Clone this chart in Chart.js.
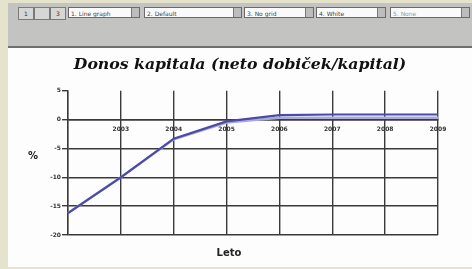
<!DOCTYPE html>
<html><head><meta charset="utf-8">
<script src="https://cdn.jsdelivr.net/npm/chart.js@4/dist/chart.umd.min.js"></script>
<style>
html,body{margin:0;padding:0;}
body{width:472px;height:269px;background:#e5e3cb;position:relative;overflow:hidden;font-family:"DejaVu Sans",sans-serif;}
#bar{position:absolute;left:8px;top:3px;width:464px;height:43px;background:#c3c3c1;border-bottom:2px solid #6e6e6e;}
.btn{position:absolute;top:4px;height:11px;background:#d6d6d4;border:1px solid #7a7a7a;font-size:6px;line-height:11px;text-align:center;color:#333;}
.dd{position:absolute;top:4px;height:11px;background:#fafafa;border:1px solid #6a6a6a;font-size:6px;line-height:11px;color:#444;padding-left:2px;box-sizing:border-box;}
.ar{position:absolute;right:0;top:0;width:7px;height:9px;background:#bdbdbd;border-left:1px solid #777;}
#panel{position:absolute;left:8px;top:48px;width:464px;height:219px;background:#fdfdfd;}
</style></head>
<body>
<div id="bar">
  <div class="btn" style="left:10px;width:14px">1</div>
  <div class="btn" style="left:26px;width:14px"></div>
  <div class="btn" style="left:42px;width:14px">3</div>
  <div class="dd" style="left:60px;width:72px">1. Line graph<div class="ar"></div></div>
  <div class="dd" style="left:136px;width:98px">2. Default<div class="ar"></div></div>
  <div class="dd" style="left:236px;width:70px">3. No grid<div class="ar"></div></div>
  <div class="dd" style="left:308px;width:70px">4. White<div class="ar"></div></div>
  <div class="dd" style="left:382px;width:80px;color:#999">5. None<div class="ar"></div></div>
</div>
<div id="panel"><canvas id="c" width="464" height="219"></canvas></div>
<script>
const categories = ['2002','2003','2004','2005','2006','2007','2008','2009'];
const seriesMain = [-16.2, -10.0, -3.3, -0.3, 0.8, 0.9, 0.9, 0.9];
const seriesLight = [-16.2, -10.0, -3.4, -0.5, 0.35, 0.35, 0.35, 0.35];
const yTicks = [5, 0, -5, -10, -15, -20];
const titleText = 'Donos kapitala (neto dobiček/kapital)';
const xTitle = 'Leto';
const yTitle = '%';

const gridDark = '#3a3a3a';
const axisTitlesPlugin = {
  id: 'axisTitles',
  afterDraw(chart) {
    const ctx = chart.ctx;
    ctx.save();
    ctx.fillStyle = '#222';
    ctx.textAlign = 'center';
    ctx.textBaseline = 'middle';
    ctx.font = 'bold 10px "DejaVu Sans", sans-serif';
    ctx.fillText(yTitle, 25, 108);
    ctx.fillText(xTitle, 221, 205);
    ctx.restore();
  }
};

new Chart(document.getElementById('c'), {
  type: 'line',
  data: {
    labels: categories,
    datasets: [
      { data: seriesLight, borderColor: '#a9a9dc', borderWidth: 2.5, pointRadius: 0, tension: 0, order: 2 },
      { data: seriesMain, borderColor: '#4b4ba6', borderWidth: 2.2, pointRadius: 0, tension: 0, order: 1 }
    ]
  },
  plugins: [axisTitlesPlugin],
  options: {
    responsive: false,
    animation: false,
    layout: { padding: { left: 0, right: 0, top: 0, bottom: 32 } },
    plugins: {
      legend: { display: false },
      tooltip: { enabled: false },
      title: {
        display: true, text: titleText, color: '#111',
        font: { family: '"DejaVu Serif", serif', size: 15.7, style: 'italic', weight: 'bold' },
        padding: { top: 8, bottom: 16 }
      }
    },
    scales: {
      x: {
        type: 'category',
        position: { y: 0 },
        offset: false,
        grid: { color: gridDark, lineWidth: 1.4, drawTicks: false },
        border: { color: gridDark, width: 1.4 },
        ticks: {
          color: '#333', padding: 6, maxRotation: 0, autoSkip: false,
          font: { family: '"DejaVu Sans", sans-serif', size: 6, weight: 'bold' },
          callback: (v, i) => i === 0 ? '' : categories[i]
        }
      },
      y: {
        min: -20, max: 5,
        afterFit(s) { s.width = 60; },
        afterBuildTicks(s) { s.ticks = yTicks.map(v => ({ value: v })); },
        grid: {
          color: (c) => (c.tick && c.tick.value === 5) ? 'rgba(0,0,0,0)' : gridDark,
          tickColor: gridDark, lineWidth: 1.4, tickLength: 6
        },
        border: { color: gridDark, width: 1.4 },
        ticks: {
          color: '#333', padding: 1,
          font: { family: '"DejaVu Sans", sans-serif', size: 6, weight: 'bold' }
        }
      },
      yRight: {
        position: 'right',
        display: true,
        afterFit(s) { s.width = 34; },
        grid: { display: false, drawTicks: false },
        border: { display: false },
        ticks: { display: false }
      }
    }
  }
});
</script>
</body></html>
